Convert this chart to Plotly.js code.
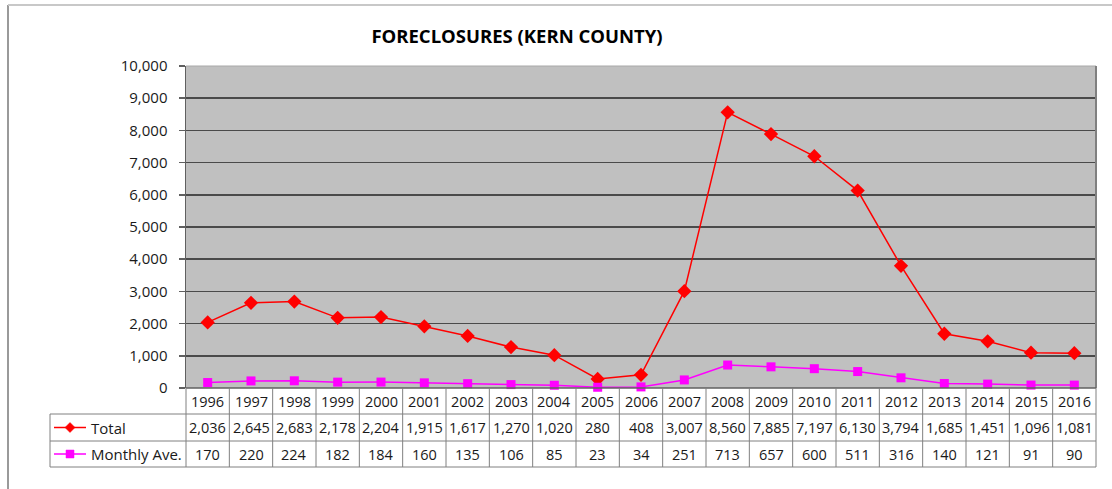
<!DOCTYPE html>
<html>
<head>
<meta charset="utf-8">
<script src="https://cdn.plot.ly/plotly-3.0.1.min.js"></script>
<style>html,body{margin:0;padding:0;background:#fff;}#chart{width:1112px;height:489px;}</style>
</head>
<body>
<div id="chart"></div>
<script>
const years = ['1996','1997','1998','1999','2000','2001','2002','2003','2004','2005','2006','2007','2008','2009','2010','2011','2012','2013','2014','2015','2016'];
const total = [2036,2645,2683,2178,2204,1915,1617,1270,1020,280,408,3007,8560,7885,7197,6130,3794,1685,1451,1096,1081];
const monthly = [170,220,224,182,184,160,135,106,85,23,34,251,713,657,600,511,316,140,121,91,90];
const seriesNames = ['Total','Monthly Ave.'];
const yTicks = [0,1000,2000,3000,4000,5000,6000,7000,8000,9000,10000];

const W = 1112, H = 489;
const L = 186, R = 1096, T = 66, B = 388;
const pw = R - L, ph = B - T;
const px = p => (p - L) / pw;
const py = p => (B - p) / ph;

const rowY = [388, 414, 441, 467];
const FONT = 'Open Sans, Noto Sans, DejaVu Sans, sans-serif';
const gridC = '#808080';

const shapes = [];
// outer chart frame
shapes.push({type:'line', xref:'paper', yref:'paper', x0:px(8), x1:px(8), y0:py(5), y1:py(489), line:{color:'#9a9a9a', width:2}});
shapes.push({type:'line', xref:'paper', yref:'paper', x0:px(8), x1:px(1112), y0:py(5), y1:py(5), line:{color:'#c8c8c8', width:2}});
// plot area border
shapes.push({type:'line', xref:'paper', yref:'paper', x0:0, x1:1, y0:1, y1:1, line:{color:'#a8a8a8', width:1}});
shapes.push({type:'line', xref:'paper', yref:'paper', x0:1, x1:1, y0:0, y1:1, line:{color:'#808080', width:2}});
// table horizontal lines
[414, 441, 467].forEach(y => shapes.push({type:'line', xref:'paper', yref:'paper', x0:px(50), x1:px(R), y0:py(y), y1:py(y), line:{color:gridC, width:1}}));
shapes.push({type:'line', xref:'paper', yref:'paper', x0:0, x1:1, y0:py(388), y1:py(388), line:{color:'#606060', width:1.5}});
// table vertical lines
shapes.push({type:'line', xref:'paper', yref:'paper', x0:px(50), x1:px(50), y0:py(414), y1:py(467), line:{color:gridC, width:1}});
for (let k = 0; k <= years.length; k++) {
  const xx = k / years.length;
  shapes.push({type:'line', xref:'paper', yref:'paper', x0:xx, x1:xx, y0:py(388), y1:py(467), line:{color:gridC, width:1}});
}
// legend keys
const keyY = [(rowY[1]+rowY[2])/2, (rowY[2]+rowY[3])/2];
const keyColors = ['#FF0000', '#FF00FF'];
keyColors.forEach((c, i) => {
  shapes.push({type:'line', xref:'paper', yref:'paper', x0:px(54), x1:px(86), y0:py(keyY[i]), y1:py(keyY[i]), line:{color:c, width:1.5}});
});
shapes.push({type:'path', xref:'paper', yref:'paper', xsizemode:'pixel', ysizemode:'pixel', xanchor:px(70), yanchor:py(keyY[0]),
  path:'M0,5L5,0L0,-5L-5,0Z', fillcolor:'#FF0000', line:{color:'#FF0000', width:0.5}});
shapes.push({type:'path', xref:'paper', yref:'paper', xsizemode:'pixel', ysizemode:'pixel', xanchor:px(70), yanchor:py(keyY[1]),
  path:'M-4,-4L4,-4L4,4L-4,4Z', fillcolor:'#FF00FF', line:{color:'#FF00FF', width:0.5}});

const annotations = [];
const fmt = v => v.toLocaleString('en-US');
const cellFont = {family: FONT, size: 14.5, color: '#1a1a1a'};
const colX = i => (i + 0.5) / years.length;
const yearRowY = py((rowY[0]+rowY[1])/2);
years.forEach((yr, i) => {
  annotations.push({xref:'paper', yref:'paper', x:colX(i), y:yearRowY, text:yr, showarrow:false, xanchor:'center', yanchor:'middle', font:cellFont});
  annotations.push({xref:'paper', yref:'paper', x:colX(i), y:py(keyY[0]), text:fmt(total[i]), showarrow:false, xanchor:'center', yanchor:'middle', font:cellFont});
  annotations.push({xref:'paper', yref:'paper', x:colX(i), y:py(keyY[1]), text:fmt(monthly[i]), showarrow:false, xanchor:'center', yanchor:'middle', font:cellFont});
});
seriesNames.forEach((n, i) => {
  annotations.push({xref:'paper', yref:'paper', x:px(89), y:py(keyY[i]), text:n, showarrow:false, xanchor:'left', yanchor:'middle', font:{family: FONT, size: 15, color:'#1a1a1a'}});
});

const traces = [
  {type:'scatter', mode:'lines+markers', name:seriesNames[0], x:years, y:total,
   line:{color:'#FF0000', width:1.5}, marker:{symbol:'diamond', size:11, color:'#FF0000'}, cliponaxis:false},
  {type:'scatter', mode:'lines+markers', name:seriesNames[1], x:years, y:monthly,
   line:{color:'#FF00FF', width:1.5}, marker:{symbol:'square', size:9, color:'#FF00FF'}, cliponaxis:false}
];

const layout = {
  width: W, height: H,
  margin: {l: L, r: W - R, t: T, b: H - B, pad: 0},
  paper_bgcolor: '#ffffff',
  plot_bgcolor: '#C0C0C0',
  showlegend: false,
  font: {family: FONT, size: 14, color: '#1a1a1a'},
  title: {text: 'FORECLOSURES (KERN COUNTY)', font: {family: FONT, size: 18.5, color: '#000', weight: 'bold'},
          xref: 'container', yref: 'container', x: 517 / W, y: 1 - 37 / H, xanchor: 'center', yanchor: 'middle'},
  xaxis: {type: 'category', range: [-0.5, years.length - 0.5], showticklabels: false, showgrid: false, zeroline: false, showline: false, ticks: '', fixedrange: true},
  yaxis: {range: [0, 10000], tickvals: yTicks, ticktext: yTicks.map(fmt), showgrid: true, gridcolor: '#4a4a4a', gridwidth: 1.5,
          zeroline: false, showline: true, linecolor: '#606060', linewidth: 1.5, ticks: 'outside', ticklen: 6, tickcolor: '#606060', tickwidth: 1.5,
          ticklabelstandoff: 8, tickfont: {family: FONT, size: 15, color: '#1a1a1a'}, fixedrange: true},
  shapes: shapes,
  annotations: annotations
};

Plotly.newPlot('chart', traces, layout, {staticPlot: true, displayModeBar: false});
</script>
</body>
</html>
